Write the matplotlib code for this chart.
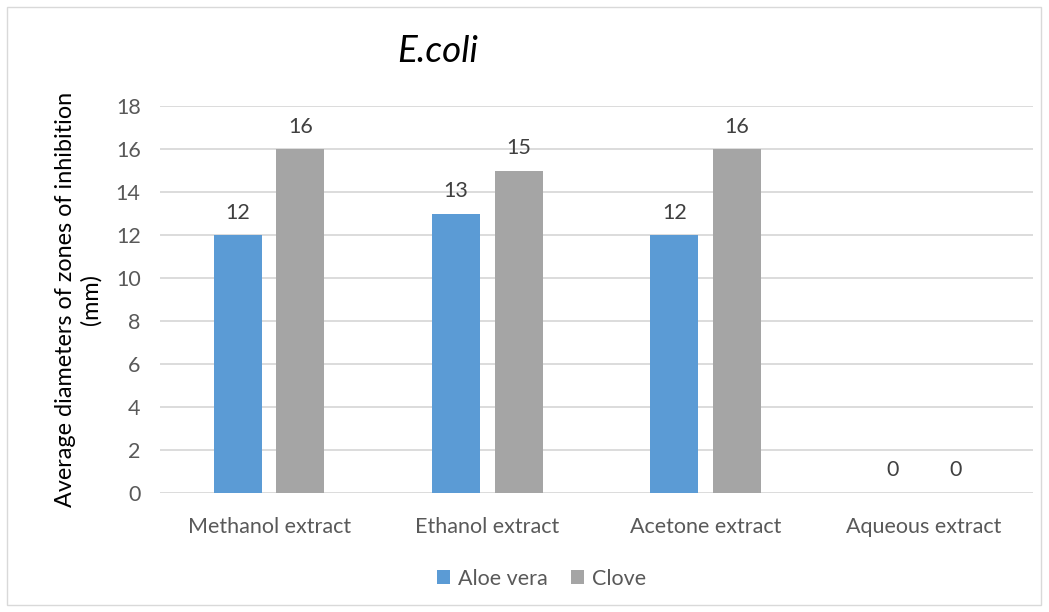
import numpy as np
import matplotlib.pyplot as plt
from matplotlib.patches import Rectangle

# zone of inhibition diameters (mm) against E. coli
extracts = ["Methanol extract", "Ethanol extract", "Acetone extract", "Aqueous extract"]
aloe_vera = [12, 13, 12, 0]
clove = [16, 15, 16, 0]
y_ticks = [0, 2, 4, 6, 8, 10, 12, 14, 16, 18]

blue = "#5B9BD5"
grey = "#A5A5A5"
text_col = "#595959"

plt.rcParams['font.family'] = ['Lato', 'DejaVu Sans']

fig = plt.figure(figsize=(10.49, 6.12), dpi=100)
ax = fig.add_axes([160 / 1049, 1 - 493 / 612, (1033 - 160) / 1049, (493 - 106) / 612])

x = np.arange(len(extracts))
w = 0.22
off = 0.143
b1 = ax.bar(x - off, aloe_vera, w, color=blue, label="Aloe vera", zorder=3)
b2 = ax.bar(x + off, clove, w, color=grey, label="Clove", zorder=3)

for bars in (b1, b2):
    ax.bar_label(bars, padding=9, fontsize=15.5, color="#404040")

ax.set_xlim(-0.5, 3.5)
ax.set_ylim(0, 18)
ax.set_yticks(y_ticks)
ax.set_xticks(x)
ax.set_xticklabels(extracts)
ax.tick_params(axis='both', length=0, labelsize=15.5, colors=text_col)
ax.tick_params(axis='x', pad=17)
ax.tick_params(axis='y', pad=14)
ax.grid(axis='y', color="#D9D9D9", linewidth=1.3, zorder=0)
for s in ax.spines.values():
    s.set_visible(False)

ax.set_ylabel("Average diameters of zones of inhibition\n(mm)", fontsize=16.8,
              color="black", labelpad=10, linespacing=1.25)

fig.text(438 / 1049, 1 - 52 / 612, "E.coli", fontsize=26.5, style='italic',
         ha='center', va='center', color="black")

ax.legend(loc='center', bbox_to_anchor=(0.437, -0.222), ncol=2, frameon=False,
          fontsize=15.5, labelcolor=text_col, handlelength=0.6, handleheight=0.6,
          handletextpad=0.35, columnspacing=1.1)

# light frame around the whole chart
fig.patches.append(Rectangle((7 / 1049, 7 / 612), 1034 / 1049, 598 / 612,
                             transform=fig.transFigure, fill=False,
                             edgecolor="#D9D9D9", linewidth=1))

fig.savefig("out.png", dpi=100)
